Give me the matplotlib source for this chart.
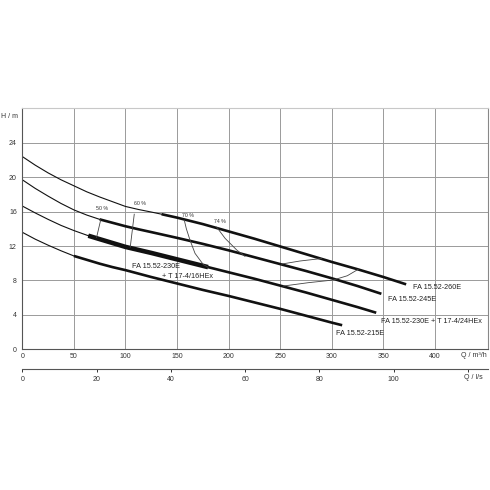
import matplotlib
matplotlib.use('Agg')
import matplotlib.pyplot as plt
import matplotlib.transforms as mtransforms
import numpy as np

plt.rcParams['font.family'] = ['Liberation Sans', 'DejaVu Sans']

# pump curves, Q in m3/h, H in m
q_260 = [0, 12.5, 25, 37.5, 50, 62.5, 75, 87.5, 100, 112.5, 125, 135, 150, 175, 200, 225, 250, 275, 300, 325, 350, 372]
h_260 = [22.4, 21.4, 20.5, 19.7, 19.0, 18.3, 17.7, 17.15, 16.6, 16.25, 15.95, 15.7, 15.3, 14.55, 13.7, 12.85, 11.95, 11.05, 10.15, 9.3, 8.4, 7.55]
thick_260 = 135

q_245 = [0, 12.5, 25, 37.5, 50, 62.5, 75, 87.5, 100, 112.5, 125, 150, 175, 200, 225, 250, 275, 300, 325, 348]
h_245 = [19.7, 18.7, 17.8, 16.95, 16.2, 15.6, 15.1, 14.7, 14.3, 13.95, 13.62, 12.95, 12.25, 11.5, 10.7, 9.9, 9.1, 8.25, 7.35, 6.45]
thick_245 = 75

q_230 = [0, 12.5, 25, 37.5, 50, 64, 75, 87.5, 100, 112.5, 125, 150, 175, 180, 200, 225, 250, 275, 300, 325, 343]
h_230 = [16.65, 15.85, 15.1, 14.4, 13.8, 13.2, 12.8, 12.35, 11.9, 11.55, 11.2, 10.45, 9.7, 9.55, 8.95, 8.2, 7.4, 6.6, 5.75, 4.9, 4.25]
thick_230 = 64
t16_range = (64, 180)  # FA 15.52-230E + T 17-4/16HEx

q_215 = [0, 12.5, 25, 37.5, 50, 62.5, 75, 87.5, 100, 112.5, 125, 150, 175, 200, 225, 250, 275, 300, 310]
h_215 = [13.6, 12.8, 12.1, 11.45, 10.85, 10.4, 9.95, 9.55, 9.2, 8.8, 8.4, 7.65, 6.9, 6.2, 5.45, 4.7, 3.9, 3.1, 2.8]
thick_215 = 50

# efficiency lines
eff50_q, eff50_h = [76, 72], [15.05, 13.0]
eff60_q, eff60_h = [108.5, 104.6], [15.7, 11.85]
eff70a_q = [157, 159, 162.5, 167.4, 175.4, 180]
eff70a_h = [15.0, 14.0, 12.7, 11.15, 9.85, 9.55]
eff70b_q, eff70b_h = [251, 269, 290], [9.9, 10.26, 10.55]
eff74a_q, eff74a_h = [188.4, 196.5, 207.8, 215.8], [14.2, 12.9, 11.54, 10.8]
eff74b_q = [252.8, 277, 301.2, 315, 325.6]
eff74b_h = [7.35, 7.74, 8.05, 8.55, 9.3]

eff_labels = ['50 %', '60 %', '70 %', '74 %']
eff_label_q = [77, 114, 161, 191.6]
eff_label_h = [16.4, 16.95, 15.6, 14.8]

fig = plt.figure(figsize=(4.9, 4.9), dpi=100)
ax = fig.add_axes([0.0455, 0.2871, 0.951, 0.4918])

def draw(q, h, start):
    q = np.array(q)
    h = np.array(h)
    ax.plot(q[q <= start], h[q <= start], color='#111111', lw=0.8)
    ax.plot(q[q >= start], h[q >= start], color='#111111', lw=1.9, solid_capstyle='butt')

draw(q_260, h_260, thick_260)
draw(q_245, h_245, thick_245)
draw(q_230, h_230, thick_230)
draw(q_215, h_215, thick_215)

qa = np.array(q_230)
ha = np.array(h_230)
m = (qa >= t16_range[0]) & (qa <= t16_range[1])
ax.plot(qa[m], ha[m], color='#111111', lw=3.3, solid_capstyle='butt')

ec = '#444444'
for qq, hh in [(eff50_q, eff50_h), (eff60_q, eff60_h), (eff70a_q, eff70a_h),
               (eff70b_q, eff70b_h), (eff74a_q, eff74a_h), (eff74b_q, eff74b_h)]:
    ax.plot(qq, hh, color=ec, lw=0.6)

for t, x, y in zip(eff_labels, eff_label_q, eff_label_h):
    ax.text(x, y, t, fontsize=3.8, color='#333333', ha='center', va='center')

fs = 5.2
tc = '#222222'
ax.text(378.6, 7.2, 'FA 15.52-260E', fontsize=fs, color=tc, va='center')
ax.text(354.4, 5.8, 'FA 15.52-245E', fontsize=fs, color=tc, va='center')
ax.text(347.6, 3.2, 'FA 15.52-230E + T 17-4/24HEx', fontsize=fs, color=tc, va='center')
ax.text(304, 1.85, 'FA 15.52-215E', fontsize=fs, color=tc, va='center')
ax.text(106, 9.65, 'FA 15.52-230E', fontsize=fs, color=tc, va='center')
ax.text(135, 8.5, '+ T 17-4/16HEx', fontsize=fs, color=tc, va='center')

ax.set_xlim(0, 451.6)
ax.set_ylim(0, 28)
ax.set_xticks(np.arange(0, 401, 50))
ax.set_yticks(np.arange(0, 25, 4))
ax.grid(True, color='#9a9a9a', lw=0.7)
ax.tick_params(length=0, labelsize=5, colors='#333333', pad=2.5)
ax.tick_params(axis='y', pad=4)
ax.spines['left'].set_color('#555555')
ax.spines['bottom'].set_color('#555555')
ax.spines['top'].set_color('#c8c8c8')
ax.spines['right'].set_color('#888888')
for s in ax.spines.values():
    s.set_linewidth(0.8)

sec = ax.secondary_xaxis(-0.083, functions=(lambda q: q / 3.6, lambda l: l * 3.6))
sec.set_xticks(np.arange(0, 121, 20))
sec.set_xticklabels(['0', '20', '40', '60', '80', '100', ''])
sec.tick_params(length=2.5, width=0.7, labelsize=5, colors='#333333', pad=2)
sec.spines['bottom'].set_color('#555555')
sec.spines['bottom'].set_linewidth(0.8)

tr = mtransforms.blended_transform_factory(ax.transData, ax.transAxes)
ax.text(437.3, -0.027, 'Q / m³/h', transform=tr, fontsize=5, color='#333333', ha='center', va='center')
ax.text(437.3, -0.116, 'Q / l/s', transform=tr, fontsize=5, color='#333333', ha='center', va='center')
ax.text(-0.0285, 0.965, 'H / m', transform=ax.transAxes, fontsize=5, color='#333333', ha='center', va='center')

fig.savefig('out.png', dpi=100, facecolor='white')
